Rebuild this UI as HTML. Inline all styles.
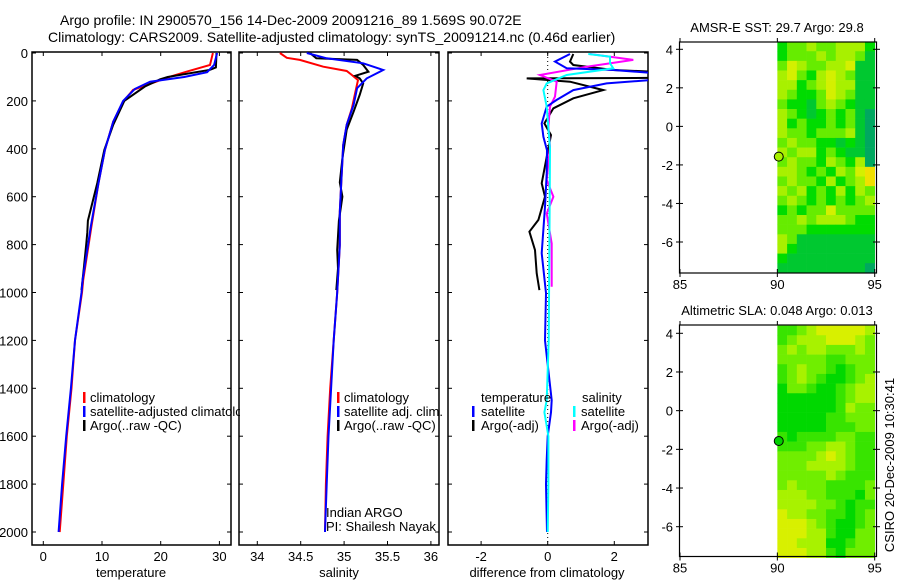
<!DOCTYPE html>
<html><head><meta charset="utf-8"><style>
html,body{margin:0;padding:0;background:#fff;}
svg{display:block;font-family:"Liberation Sans",sans-serif;}
text{font-size:13px;fill:#000;}
</style></head><body>
<svg id="fig" width="900" height="580" viewBox="0 0 900 580" xmlns="http://www.w3.org/2000/svg">
<defs>
<clipPath id="c1"><rect x="32" y="52" width="199" height="493"/></clipPath>
<clipPath id="c2"><rect x="239" y="52" width="200" height="493"/></clipPath>
<clipPath id="c3"><rect x="448" y="52" width="200" height="493"/></clipPath>
<clipPath id="cl1"><rect x="32" y="52" width="208" height="493"/></clipPath>
</defs>
<text x="60" y="25" style="font-size:14px">Argo profile: IN 2900570_156 14-Dec-2009 20091216_89 1.569S 90.072E</text>
<text x="48" y="42" style="font-size:14px">Climatology: CARS2009. Satellite-adjusted climatology: synTS_20091214.nc (0.46d earlier)</text>
<text transform="translate(894,465) rotate(-90)" text-anchor="middle">CSIRO 20-Dec-2009 10:30:41</text>
</svg>
<script>
// ---------- DATA ----------
const depthTicks=[0,200,400,600,800,1000,1200,1400,1600,1800,2000];
const tempTicks=[0,10,20,30];
const salTicks=[34,34.5,35,35.5,36];
const salTickLabels=["34","34.5","35","35.5","36"];
const diffTicks=[-2,0,2];

const climTempDepth=[0,50,78,99,154,203,287,405,543,725,948,1000,1200,1400,1600,1800,2000];
const climTemp=[28.9,28.4,24.4,21.6,15.3,13.6,11.9,10.5,9.4,8.2,6.8,6.6,5.4,4.8,4.0,3.4,2.8];
const satTempDepth=[0,50,80,100,120,150,200,287,405,543,725,948,1000,1200,1400,1600,1800,2000];
const satTemp=[29.6,29.1,27.9,24.0,18.2,15.6,13.6,11.9,10.5,9.4,8.1,6.7,6.5,5.4,4.7,3.9,3.2,2.6];
const argoTempDepth=[0,60,70,100,110,140,200,300,405,543,700,750,800,900,990];
const argoTemp=[29.5,29.4,28.4,21.2,19.9,17.3,13.8,11.9,10.4,9.2,7.6,7.5,7.3,6.9,6.5];

const climSalDepth=[0,20,29,57,75,92,113,162,231,300,384,522,663,802,1000,1200,1400,1600,1800,2000];
const climSal=[34.26,34.34,34.49,34.76,35.03,35.09,35.16,35.13,35.09,35.03,34.99,34.97,34.95,34.95,34.92,34.88,34.84,34.81,34.79,34.78];
const satSalDepth=[0,22,43,71,106,147,217,300,384,522,663,802,1000,1200,1400,1600,1800,2000];
const satSal=[34.57,34.80,35.22,35.45,35.26,35.15,35.11,35.03,34.99,34.97,34.95,34.95,34.92,34.88,34.85,34.82,34.80,34.78];
const argoSalDepth=[1,22,29,50,78,95,106,127,175,245,320,440,540,600,700,822,900,990];
const argoSal=[34.61,34.68,35.15,35.22,35.28,35.13,35.18,35.22,35.18,35.11,35.03,34.98,34.95,34.98,34.94,34.92,34.93,34.91];

const satTDiffDepth=[4,36,64,71,84,112,127,155,196,224,294,350,406,502,642,836,1002,1200,1450,1500,1600,1700,1800,2000];
const satTDiff=[0.67,0.22,0.57,1.97,3.2,3.2,1.77,0.77,0.27,-0.03,-0.18,-0.13,-0.02,-0.03,-0.08,-0.18,-0.05,-0.08,0.12,0.1,0.0,-0.03,-0.05,-0.02];
const argoTDiffDepth=[4,36,50,71,78,104,106,120,155,189,231,294,343,434,544,600,697,746,823,920,990];
const argoTDiff=[0.77,0.67,0.77,1.97,3.2,3.2,-0.63,0.67,1.67,0.77,0.17,-0.1,0.1,-0.03,-0.18,-0.08,-0.28,-0.55,-0.38,-0.33,-0.25];
const satSDiffDepth=[4,15,43,64,92,127,155,224,400,800,1200,1450,1500,1600,1800,2000];
const satSDiff=[1.22,1.87,1.87,1.97,0.57,-0.03,-0.13,-0.03,0.07,0.05,0.03,-0.03,-0.1,0.02,0.02,0.0];
const argoSDiffDepth=[4,29,57,92,120,182,224,308,392,530,600,670,795,976];
const argoSDiff=[1.27,2.57,1.17,-0.23,0.27,0.22,0.07,0.02,0.07,-0.03,0.17,-0.03,0.12,0.12];

const lonTicks=[85,90,95];
const latTicks=[4,2,0,-2,-4,-6];
const floatLon=90.072, floatLat=-1.569;
// map grids: 10 cols (90..95, 0.5deg), 24 rows (4.4 .. -7.6, 0.5deg); digits = colour level
const sstGrid=["2334334442","2333434431","3543344511","4532454311","4423454411","4322354311","3221343211","4321232310","4232232310","4332333410","3433221210","4344232110","3433243240","4432324356","3433242346","4342324243","3432323234","2323353333","3343444322","3332222222","4311111111","4211111111","2111111111","1111111110"];
const slaGrid=["2234555554","2344455543","3434433343","3333322333","2343321233","2343211234","1332112344","1111112344","1111112433","1111122333","1111122233","2122223322","2223344322","3333454322","3334444322","3333343222","3433322223","4443322213","4444332122","5443322123","5554321123","5554421133","5544411233","5554421333"];
const sstColors=["#00a860","#00c830","#00dc00","#66ec00","#a8f000","#d4f000","#f0e000"];
const slaColors=["#00c800","#00d800","#38e400","#70ee00","#a8f200","#d8f000"];

// ---------- HELPERS ----------
const svg=document.getElementById('fig');
const NS='http://www.w3.org/2000/svg';
function mk(tag,attrs,parent){const e=document.createElementNS(NS,tag);for(const k in attrs)e.setAttribute(k,attrs[k]);(parent||svg).appendChild(e);return e;}
function txt(x,y,s,anchor,parent){const t=mk('text',{x:x,y:y,'text-anchor':anchor||'start'},parent);t.textContent=s;return t;}
const yD=d=>53+d*0.2395;
const xT=v=>43.3+v*5.87;
const xS=v=>257.3+(v-34)*86.8;
const xDf=v=>547.7+v*33.3;

function frame(x0,x1,name){
  const r=mk('rect',{x:x0,y:52,width:x1-x0,height:493,fill:'none',stroke:'#000','stroke-width':1.5});
  
  
  depthTicks.forEach(d=>{mk('line',{x1:x0,x2:x0+4,y1:yD(d),y2:yD(d),stroke:'#000'});mk('line',{x1:x1-4,x2:x1,y1:yD(d),y2:yD(d),stroke:'#000'});});
}
function xticks(vals,labels,fx){
  vals.forEach((v,i)=>{const x=fx(v);mk('line',{x1:x,x2:x,y1:52,y2:56,stroke:'#000'});mk('line',{x1:x,x2:x,y1:541,y2:545,stroke:'#000'});
    const t=txt(x,561,labels[i],'middle');
    
    });
}
function line(ds,vs,fx,color,clip,name,w){
  const p=mk('polyline',{points:ds.map((d,i)=>fx(vs[i]).toFixed(1)+','+yD(d).toFixed(1)).join(' '),fill:'none',stroke:color,'stroke-width':w||2,'clip-path':'url(#'+clip+')'});
  
  
}
function legBar(x,y,color){mk('rect',{x:x,y:y-10,width:2.5,height:11,fill:color});}

// ---------- PANEL 1: temperature ----------
frame(32,231,'temperature-axes');
depthTicks.forEach(d=>{const t=txt(28,yD(d)+5,String(d),'end');
  
  });
xticks(tempTicks,tempTicks.map(String),xT);
line(climTempDepth,climTemp,xT,'#ff0000','c1','climatology-temp-line');
line(argoTempDepth,argoTemp,xT,'#000000','c1','argo-temp-line');
line(satTempDepth,satTemp,xT,'#0000ff','c1','satellite-temp-line');
let t=txt(131,577,'temperature','middle');
const lg1=mk('g',{'clip-path':'url(#cl1)'});


legBar(83,402,'#ff0000');txt(90,402,'climatology','start',lg1);
legBar(83,416,'#0000ff');txt(90,416,'satellite-adjusted climatology','start',lg1);
legBar(83,430,'#000');txt(90,430,'Argo(..raw -QC)','start',lg1);

// ---------- PANEL 2: salinity ----------
frame(239,439,'salinity-axes');
xticks(salTicks,salTickLabels,xS);
line(climSalDepth,climSal,xS,'#ff0000','c2','climatology-sal-line');
line(argoSalDepth,argoSal,xS,'#000000','c2','argo-sal-line');
line(satSalDepth,satSal,xS,'#0000ff','c2','satellite-sal-line');
t=txt(339,577,'salinity','middle');
const lg2=mk('g',{});


legBar(337,402,'#ff0000');txt(344,402,'climatology','start',lg2);
legBar(337,416,'#0000ff');txt(344,416,'satellite adj. clim.','start',lg2);
legBar(337,430,'#000');txt(344,430,'Argo(..raw -QC)','start',lg2);
t=txt(326,517,'Indian ARGO');
t=txt(326,531,'PI: Shailesh Nayak');

// ---------- PANEL 3: differences ----------
frame(448,648,'difference-axes');
xticks(diffTicks,diffTicks.map(String),xDf);
mk('line',{x1:xDf(0),x2:xDf(0),y1:53,y2:544,stroke:'#000','stroke-dasharray':'1,3'});
line(argoTDiffDepth,argoTDiff,xDf,'#000000','c3','argo-temp-diff-line');
line(argoSDiffDepth,argoSDiff,xDf,'#ff00ff','c3','argo-sal-diff-line');
line(satTDiffDepth,satTDiff,xDf,'#0000ff','c3','satellite-temp-diff-line');
line(satSDiffDepth,satSDiff,xDf,'#00ffff','c3','satellite-sal-diff-line');
t=txt(547,577,'difference from climatology','middle');
const lg3=mk('g',{});


txt(481,402,'temperature','start',lg3);txt(582,402,'salinity','start',lg3);
legBar(472,416,'#0000ff');txt(481,416,'satellite','start',lg3);
legBar(573,416,'#00ffff');txt(581,416,'satellite','start',lg3);
legBar(472,430,'#000');txt(481,430,'Argo(-adj)','start',lg3);
legBar(573,430,'#ff00ff');txt(581,430,'Argo(-adj)','start',lg3);

// ---------- MAPS ----------
function map(top,bottom,lat4y,latm6y,grid,colors,title,name,circleFill){
  const xL=lon=>680+(lon-85)*19.47;
  const yL=lat=>lat4y+(4-lat)*(latm6y-lat4y)/10;
  const g=mk('g',{});
  
  
  grid.forEach((row,r)=>{
    for(let c=0;c<row.length;c++){
      const lon0=90+c*0.5, lat0=4.4-r*0.5;
      const x0=xL(lon0), x1=Math.min(xL(lon0+0.5),876.5);
      mk('rect',{x:x0,y:yL(lat0),width:x1-x0+0.3,height:yL(lat0-0.5)-yL(lat0)+0.3,fill:colors[+row[c]]},g);
    }
  });
  mk('rect',{x:679.5,y:top,width:197,height:bottom-top,fill:'none',stroke:'#000','stroke-width':1.2},g);
  lonTicks.forEach(l=>{const x=xL(l);mk('line',{x1:x,x2:x,y1:bottom-4,y2:bottom+4,stroke:'#000'},g);mk('line',{x1:x,x2:x,y1:top-4,y2:top,stroke:'#000'},g);txt(x,bottom+16,String(l),'middle',g);});
  latTicks.forEach(l=>{const y=yL(l);mk('line',{x1:676,x2:683,y1:y,y2:y,stroke:'#000'},g);mk('line',{x1:873,x2:880,y1:y,y2:y,stroke:'#000'},g);txt(673,y+5,String(l),'end',g);});
  const c=mk('circle',{cx:xL(floatLon),cy:yL(floatLat),r:4.5,fill:circleFill,stroke:'#000','stroke-width':1});
  
  
  const tt=txt(777,top-10,title,'middle');
  
  
}
map(42,273,49.3,242,sstGrid,sstColors,'AMSR-E SST: 29.7 Argo: 29.8','sst-map','#a8f000');
map(325,556.5,333.3,526.7,slaGrid,slaColors,'Altimetric SLA: 0.048 Argo: 0.013','sla-map','#00d000');
</script>
</body></html>
